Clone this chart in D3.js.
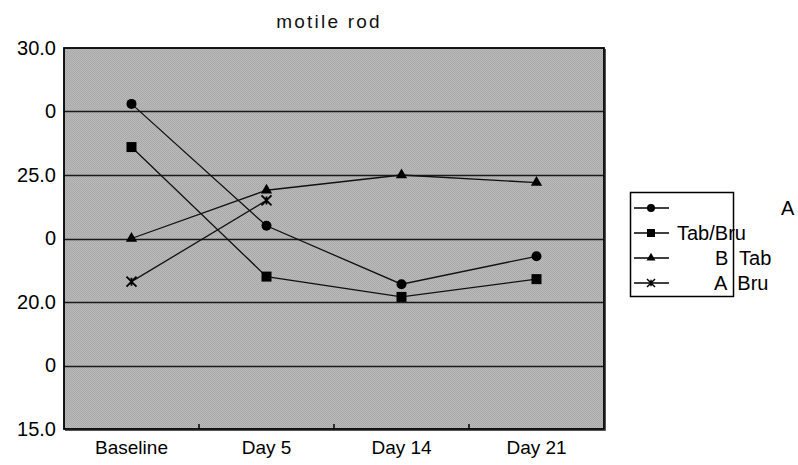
<!DOCTYPE html>
<html>
<head>
<meta charset="utf-8">
<script src="https://cdn.jsdelivr.net/npm/d3@7/dist/d3.min.js"></script>
<style>
  body { margin: 0; background: #fff; }
  svg { display: block; font-family: "Liberation Sans", Arial, sans-serif; }
</style>
</head>
<body>
<div id="chart"></div>
<script>
// chart data
var categories = ['Baseline', 'Day 5', 'Day 14', 'Day 21'];
var yTicks = [30, 27.5, 25, 22.5, 20, 17.5, 15];
var yTickLabels = ['30.0', '0', '25.0', '0', '20.0', '0', '15.0'];
var seriesNames = ['A', 'Tab/Bru', 'B  Tab', 'A  Bru'];
var seriesA = [27.8, 23.0, 20.7, 21.8];
var seriesTabBru = [26.1, 21.0, 20.2, 20.9];
var seriesBTab = [22.5, 24.4, 25.0, 24.7];
var seriesABru = [20.8, 24.0, null, null];

var width = 798, height = 465;
var margin = { top: 48, right: 194, bottom: 36, left: 64 };
var innerW = width - margin.left - margin.right;
var innerH = height - margin.top - margin.bottom;
var fontFamily = '"Liberation Sans", Arial, sans-serif';

var svg = d3.select('#chart').append('svg')
  .attr('width', width)
  .attr('height', height);

var defs = svg.append('defs');
var pat = defs.append('pattern')
  .attr('id', 'hatch')
  .attr('width', 2)
  .attr('height', 2)
  .attr('patternUnits', 'userSpaceOnUse');
pat.append('rect').attr('width', 2).attr('height', 2).attr('fill', '#bababa');
pat.append('rect').attr('width', 1).attr('height', 1).attr('fill', '#a9a9a9');
pat.append('rect').attr('x', 1).attr('y', 1).attr('width', 1).attr('height', 1).attr('fill', '#a9a9a9');

var x = d3.scaleBand()
  .domain(categories)
  .range([0, innerW]);

var y = d3.scaleLinear()
  .domain([15, 30])
  .range([innerH, 0]);

svg.append('text')
  .attr('x', 329)
  .attr('y', 28)
  .attr('text-anchor', 'middle')
  .attr('font-size', 19)
  .attr('letter-spacing', 2.2)
  .attr('fill', '#111')
  .text('motile rod');

var g = svg.append('g')
  .attr('transform', 'translate(' + margin.left + ',' + margin.top + ')');

g.append('rect')
  .attr('width', innerW)
  .attr('height', innerH)
  .attr('fill', 'url(#hatch)');

// gridlines
g.append('g')
  .selectAll('line')
  .data(yTicks.filter(function (d) { return d !== 30 && d !== 15; }))
  .enter()
  .append('line')
  .attr('x1', 0)
  .attr('x2', innerW)
  .attr('y1', function (d) { return Math.round(y(d)) + 0.5; })
  .attr('y2', function (d) { return Math.round(y(d)) + 0.5; })
  .attr('stroke', '#1a1a1a')
  .attr('stroke-width', 1.6);

g.append('rect')
  .attr('width', innerW)
  .attr('height', innerH)
  .attr('fill', 'none')
  .attr('stroke', '#000')
  .attr('stroke-width', 1.8);

// shadow on right and bottom edges
g.append('path')
  .attr('d', 'M' + (innerW + 1.5) + ',1V' + (innerH + 1.5) + 'H1')
  .attr('fill', 'none')
  .attr('stroke', '#555')
  .attr('stroke-width', 1);

// y axis
var yAxis = d3.axisLeft(y)
  .tickValues(yTicks)
  .tickSize(0)
  .tickPadding(8)
  .tickFormat(function (d, i) { return yTickLabels[i]; });

g.append('g')
  .call(yAxis)
  .call(function (s) { s.select('.domain').remove(); })
  .selectAll('text')
  .attr('font-size', 20)
  .attr('fill', '#000')
  .attr('font-family', fontFamily);

// x axis
var xAxis = d3.axisBottom(x)
  .tickSize(0)
  .tickPadding(12);

g.append('g')
  .attr('transform', 'translate(0,' + innerH + ')')
  .call(xAxis)
  .call(function (s) { s.select('.domain').remove(); })
  .selectAll('text')
  .attr('font-size', 19)
  .attr('fill', '#000')
  .attr('font-family', fontFamily);

g.append('g')
  .selectAll('line')
  .data(categories.slice(1))
  .enter()
  .append('line')
  .attr('x1', function (d) { return x(d); })
  .attr('x2', function (d) { return x(d); })
  .attr('y1', innerH)
  .attr('y2', innerH - 5)
  .attr('stroke', '#000')
  .attr('stroke-width', 1.5);

// series
var allSeries = [seriesA, seriesTabBru, seriesBTab, seriesABru];
var markerTypes = ['circle', 'square', 'triangle', 'cross'];

function drawMarker(sel, type) {
  if (type === 'circle') {
    sel.append('circle').attr('r', 5).attr('fill', '#000');
  } else if (type === 'square') {
    sel.append('rect').attr('x', -5).attr('y', -5).attr('width', 10).attr('height', 10).attr('fill', '#000');
  } else if (type === 'triangle') {
    sel.append('path').attr('d', d3.symbol().type(d3.symbolTriangle).size(55)).attr('fill', '#000');
  } else {
    sel.append('path').attr('d', 'M-5,-5L5,5M-5,5L5,-5M0,-4L0,4')
      .attr('stroke', '#000').attr('stroke-width', 1.8).attr('fill', 'none');
  }
}

var line = d3.line()
  .defined(function (d) { return d != null; })
  .x(function (d, i) { return x(categories[i]) + x.bandwidth() / 2; })
  .y(function (d) { return y(d); });

allSeries.forEach(function (values, si) {
  g.append('path')
    .datum(values)
    .attr('fill', 'none')
    .attr('stroke', '#111')
    .attr('stroke-width', 1.3)
    .attr('d', line);

  values.forEach(function (v, i) {
    if (v == null) return;
    var m = g.append('g')
      .attr('transform', 'translate(' + (x(categories[i]) + x.bandwidth() / 2) + ',' + y(v) + ')');
    drawMarker(m, markerTypes[si]);
  });
});

// legend
var legendTextX = [781, 677, 715, 714];
var legend = svg.append('g');
legend.append('rect')
  .attr('x', 630.5)
  .attr('y', 192.5)
  .attr('width', 103)
  .attr('height', 104)
  .attr('fill', '#fff')
  .attr('stroke', '#000')
  .attr('stroke-width', 1.5);

seriesNames.forEach(function (name, i) {
  var ly = 208 + i * 25;
  legend.append('line')
    .attr('x1', 634)
    .attr('x2', 669)
    .attr('y1', ly)
    .attr('y2', ly)
    .attr('stroke', '#000')
    .attr('stroke-width', 1.5);
  var m = legend.append('g').attr('transform', 'translate(651,' + ly + ') scale(0.8)');
  drawMarker(m, markerTypes[i]);
  legend.append('text')
    .attr('x', legendTextX[i])
    .attr('y', ly + 7)
    .attr('font-size', 20)
    .attr('fill', '#000')
    .style('white-space', 'pre')
    .text(name);
});
</script>
</body>
</html>
